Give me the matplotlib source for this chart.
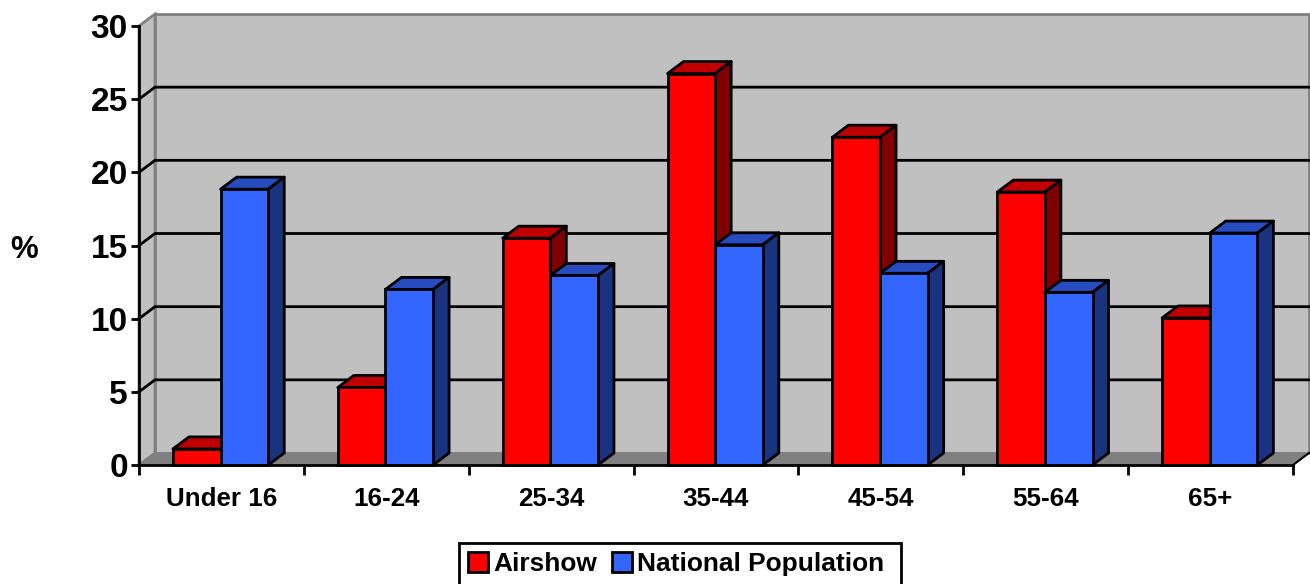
import matplotlib
matplotlib.use("Agg")
import matplotlib.pyplot as plt
from matplotlib.patches import Patch, Rectangle

plt.rcParams['font.family'] = ['Liberation Sans', 'DejaVu Sans']
plt.rcParams['font.weight'] = 'bold'

categories = ["Under 16", "16-24", "25-34", "35-44", "45-54", "55-64", "65+"]
airshow = [1.1, 5.3, 15.5, 26.75, 22.4, 18.65, 10.05]
national = [18.85, 12.0, 12.95, 15.05, 13.1, 11.8, 15.85]
yticks = [0, 5, 10, 15, 20, 25, 30]

RED = "#ff0000"
RED_TOP = "#c00000"
RED_SIDE = "#800000"
BLUE = "#3366ff"
BLUE_TOP = "#264cbf"
BLUE_SIDE = "#1a3380"
WALL = "#c0c0c0"
FLOOR = "#808080"

# depth of the fake 3d, in data units
DX = 0.097
DY = 0.82
BAR_W = 0.289
GAP = 0.206
W, H = 1310, 584


def bar3d(ax, x, h, col, top, side):
    ax.fill([x, x + DX, x + BAR_W + DX, x + BAR_W], [h, h + DY, h + DY, h],
            facecolor=top, edgecolor="black", lw=2, zorder=3, clip_on=False, joinstyle="round")
    ax.fill([x + BAR_W, x + BAR_W + DX, x + BAR_W + DX, x + BAR_W], [0, DY, h + DY, h],
            facecolor=side, edgecolor="black", lw=2, zorder=3, clip_on=False, joinstyle="round")
    ax.bar(x, h, BAR_W, align="edge", color=col, edgecolor="black", lw=2, zorder=3, clip_on=False)


fig = plt.figure(figsize=(W / 100, H / 100), dpi=100)
ax = fig.add_axes([139 / W, (H - 465) / H, 1154 / W, 439 / H])
ax.set_xlim(0, 7)
ax.set_ylim(0, 30)
ax.patch.set_visible(False)

n = len(categories)
# walls and floor
ax.fill([0, DX, DX, 0], [0, DY, 30 + DY, 30], facecolor=WALL, edgecolor=FLOOR, lw=2, zorder=1, clip_on=False)
ax.fill([DX, n + DX, n + DX, DX], [DY, DY, 30 + DY, 30 + DY], facecolor=WALL, edgecolor=FLOOR, lw=2, zorder=1, clip_on=False)
ax.fill([0, DX, n + DX, n], [0, DY, DY, 0], facecolor=FLOOR, edgecolor=FLOOR, lw=1, zorder=1, clip_on=False)

# grid lines on the back wall and the left wall
for t in yticks[1:-1]:
    ax.plot([0, DX, n + DX], [t, t + DY, t + DY], color="black", lw=2, zorder=2, clip_on=False)
ax.plot([n, n + DX], [0, DY], color="black", lw=1.5, zorder=2, clip_on=False)

for i in range(n):
    x = i + GAP
    bar3d(ax, x, airshow[i], RED, RED_TOP, RED_SIDE)
    bar3d(ax, x + BAR_W, national[i], BLUE, BLUE_TOP, BLUE_SIDE)

for s in ["top", "right"]:
    ax.spines[s].set_visible(False)
for s in ["left", "bottom"]:
    ax.spines[s].set_linewidth(2)
    ax.spines[s].set_zorder(4)

ax.set_yticks(yticks)
ax.set_yticklabels(yticks, fontsize=24, fontweight="bold")
ax.set_xticks(range(n + 1))
ax.set_xticklabels([])
ax.set_xticks([i + 0.5 for i in range(n)], categories, minor=True, fontsize=18.7, fontweight="bold")
ax.tick_params(axis="y", length=6, width=2, pad=2)
ax.tick_params(axis="x", which="major", length=7, width=2)
ax.tick_params(axis="x", which="minor", length=0, pad=16)

fig.text(24 / W, 1 - 250 / H, "%", fontsize=22.5, fontweight="bold", ha="center", va="center")

# legend box is wider on the right than the entries, so it is drawn apart
fig.add_artist(Rectangle((459 / W, -2 / H), 442 / W, (H - 543 + 2) / H, transform=fig.transFigure,
                         facecolor="white", edgecolor="black", lw=2))
handles = [Patch(facecolor=RED, edgecolor="black", lw=2, label="Airshow"),
           Patch(facecolor=BLUE, edgecolor="black", lw=2, label="National Population")]
fig.legend(handles=handles, ncol=2, loc="center left", bbox_to_anchor=(468 / W, 1 - 564 / H),
           fontsize=18.9, frameon=False,
           handlelength=0.76, handleheight=0.76, handletextpad=0.2, columnspacing=0.57,
           borderpad=0, borderaxespad=0)

fig.savefig("out.png", dpi=100)
